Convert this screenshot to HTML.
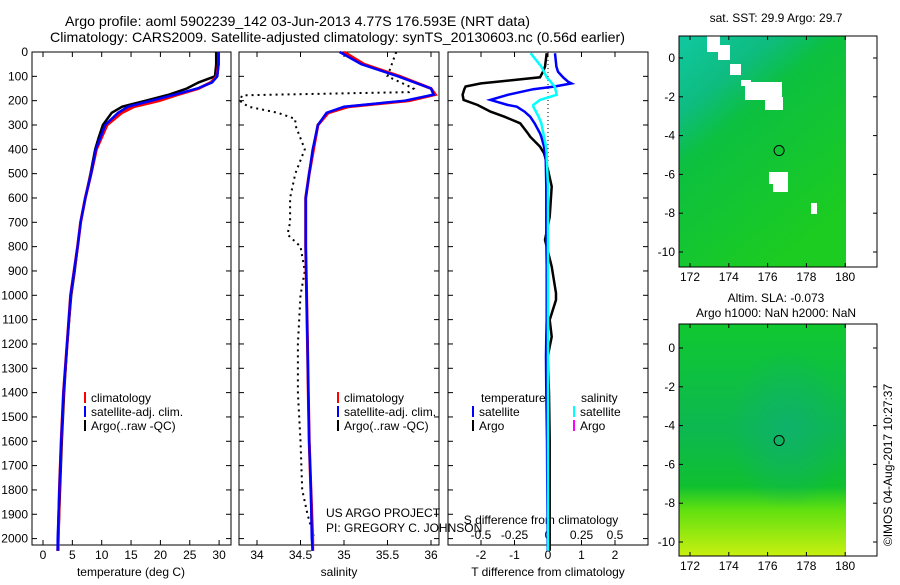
<!DOCTYPE html>
<html><head><meta charset="utf-8"><style>
body{margin:0;background:#fff;width:900px;height:580px;overflow:hidden;font-family:"Liberation Sans",sans-serif}
svg text{font-family:"Liberation Sans",sans-serif;font-size:12px;fill:#000}
</style></head><body>
<svg id="c" width="900" height="580" xmlns="http://www.w3.org/2000/svg">
<defs>
<linearGradient id="g1" x1="0" y1="0" x2="0.6" y2="1"><stop offset="0" stop-color="#10c8a0"/><stop offset="0.25" stop-color="#0ebc80"/><stop offset="0.42" stop-color="#0cc040"/><stop offset="1" stop-color="#1ccc20"/></linearGradient>
<linearGradient id="g2" x1="0" y1="0" x2="0" y2="1"><stop offset="0" stop-color="#10c830"/><stop offset="0.45" stop-color="#0cb850"/><stop offset="0.7" stop-color="#10c030"/><stop offset="0.8" stop-color="#60e010"/><stop offset="1" stop-color="#c8f010"/></linearGradient>
<radialGradient id="g2c" cx="0.65" cy="0.45" r="0.35"><stop offset="0" stop-color="#10b070" stop-opacity="0.8"/><stop offset="1" stop-color="#10b070" stop-opacity="0"/></radialGradient>
</defs>
</svg>
<script>
const depthT=[0,50,100,125,150,175,200,225,250,300,350,400,500,600,700,800,900,1000,1200,1400,1600,1800,2000,2050];
const tempClim=[29.9,29.9,29.6,28.6,26.5,23,19.8,15.5,13.4,10.9,10.0,9.1,8.2,7.2,6.4,5.9,5.3,4.7,4.1,3.5,3.1,2.8,2.6,2.5];
const tempSat=[29.9,29.9,29.7,28.8,26.3,22.5,18.5,14.5,12.8,10.6,9.8,9.0,8.2,7.2,6.4,5.9,5.3,4.7,4.1,3.5,3.1,2.8,2.5,2.5];
const tempArgo=[29.5,29.5,29.3,26.5,24.5,21.5,17.5,13.5,11.7,10.2,9.5,8.9,8.1,7.2,6.4,5.9,5.4,4.8,4.1,3.6,3.2,2.9,2.6,2.6];
const depthS=[0,50,100,150,175,200,225,250,300,400,500,600,800,1000,1200,1400,1600,1800,2000,2050];
const salClim=[35.0,35.23,35.64,36.0,36.05,35.75,35.05,34.82,34.7,34.65,34.6,34.56,34.56,34.57,34.58,34.59,34.6,34.62,34.64,34.64];
const salSat=[34.95,35.2,35.62,36.0,36.03,35.7,35.0,34.8,34.7,34.64,34.6,34.56,34.56,34.57,34.58,34.59,34.6,34.62,34.63,34.64];
const depthSA=[0,50,100,150,165,178,200,225,250,275,300,400,500,600,700,750,800,900,1000,1200,1400,1600,1800,1900,2000];
const salArgo=[35.6,35.55,35.5,35.8,35.75,33.83,33.8,33.9,34.24,34.44,34.44,34.55,34.44,34.38,34.38,34.35,34.5,34.55,34.5,34.47,34.47,34.5,34.52,34.58,34.66];
const depthD=[5,60,81,104,122,129,142,153,176,197,218,225,245,266,293,334,348,389,416,430,553,677,772,882,991,1019,1101,1170,1252,1400,1600,1800,2050];
const dTsat=[0.21,0.25,0.3,0.45,0.6,0.7,0.2,-0.44,-1.2,-1.72,-1.2,-0.93,-0.7,-0.53,-0.4,-0.24,-0.2,-0.12,-0.09,-0.07,-0.05,-0.05,-0.05,-0.04,-0.04,-0.04,-0.04,-0.05,-0.06,-0.05,-0.03,-0.02,-0.01];
const dTargo=[-0.04,-0.09,-0.15,-0.24,-1.52,-2.0,-2.46,-2.5,-2.55,-2.52,-2.1,-2.0,-1.72,-1.3,-0.83,-0.6,-0.53,-0.24,-0.12,-0.09,0.11,0.05,-0.09,0.11,0.24,0.24,0.05,0.11,-0.01,0.03,0.05,0.05,0.05];
const dSsat=[-0.13,-0.05,-0.03,-0.01,0.02,0.03,0.05,0.055,0.065,-0.06,-0.11,-0.11,-0.09,-0.07,-0.05,-0.035,-0.03,-0.015,-0.01,-0.01,0,0,0,0,0,0,0,0,0,0,0,0,0];
const depthTicks=[0,100,200,300,400,500,600,700,800,900,1000,1100,1200,1300,1400,1500,1600,1700,1800,1900,2000];
const tTicks=[0,5,10,15,20,25,30];
const sTicks=[34,34.5,35,35.5,36];
const dTTicks=[-2,-1,0,1,2];
const dSTicks=[-0.5,-0.25,0,0.25,0.5];
const lonTicks=[172,174,176,178,180];
const latTicks=[0,-2,-4,-6,-8,-10];

const svg=document.getElementById('c');const NS='http://www.w3.org/2000/svg';
function mk(tag,attrs,parent){const e=document.createElementNS(NS,tag);for(const k in attrs)e.setAttribute(k,attrs[k]);(parent||svg).appendChild(e);return e;}
function txt(x,y,s,anchor,parent){const t=mk('text',{x:x,y:y,'text-anchor':anchor||'start'},parent);t.textContent=s;return t;}
const Y0=52,Y1=545;
const yD=d=>Y0+d*0.2433;
const xT=v=>43+v*5.87, xS=v=>257+(v-34)*87, xDT=v=>548+v*33.5, xDS=v=>548+v*4*33.5;
const panels=[[32,231],[239,439],[448,648]];

const title1=txt(65,26,'Argo profile: aoml 5902239_142 03-Jun-2013 4.77S 176.593E (NRT data)','start');


title1.setAttribute('textLength','465');title1.setAttribute('lengthAdjust','spacingAndGlyphs');title1.setAttribute('style','font-size:14px');
const title2=txt(50,42,'Climatology: CARS2009. Satellite-adjusted climatology: synTS_20130603.nc (0.56d earlier)','start');


title2.setAttribute('textLength','575');title2.setAttribute('lengthAdjust','spacingAndGlyphs');title2.setAttribute('style','font-size:14px');

panels.forEach((p,i)=>{
  const g=mk('g',{});
  
  
  mk('rect',{x:p[0],y:Y0,width:p[1]-p[0],height:Y1-Y0,fill:'none',stroke:'#000','stroke-width':1},g);
  depthTicks.forEach(d=>{mk('line',{x1:p[0],x2:p[0]+5,y1:yD(d),y2:yD(d),stroke:'#000'},g);mk('line',{x1:p[1],x2:p[1]-5,y1:yD(d),y2:yD(d),stroke:'#000'},g);});
});
depthTicks.forEach(d=>{const t=txt(28,yD(d)+4,String(d),'end');});
function xticks(ticks,fx,ly,i){const p=panels[i];ticks.forEach(v=>{mk('line',{x1:fx(v),x2:fx(v),y1:Y1,y2:Y1-5,stroke:'#000'});mk('line',{x1:fx(v),x2:fx(v),y1:Y0,y2:Y0+5,stroke:'#000'});const t=txt(fx(v),ly,String(v),'middle');});}
xticks(tTicks,xT,559,0);xticks(sTicks,xS,559,1);xticks(dTTicks,xDT,559,2);
dSTicks.forEach(v=>{const t=txt(xDS(v),539,String(v),'middle');});
[['temperature (deg C)',131],['salinity',339],['T difference from climatology',548]].forEach(a=>{const t=txt(a[1],576,a[0],'middle');});
const st=txt(541,524,'S difference from climatology','middle');

function line(ds,vs,fx,color,w,name,dash){const pts=ds.map((d,i)=>fx(vs[i]).toFixed(1)+','+yD(d).toFixed(1)).join(' ');const e=mk('polyline',{points:pts,fill:'none',stroke:color,'stroke-width':w});if(dash)e.setAttribute('stroke-dasharray',dash);return e;}
line(depthT,tempArgo,xT,'#000',2.5,'temp-argo-line');
line(depthT,tempClim,xT,'#f00',3,'temp-climatology-line');
line(depthT,tempSat,xT,'#00f',2.5,'temp-satellite-line');
line(depthSA,salArgo,xS,'#000',2,'sal-argo-line','2,4');
line(depthS,salClim,xS,'#f00',3,'sal-climatology-line');
line(depthS,salSat,xS,'#00f',2.5,'sal-satellite-line');
const zl=mk('line',{x1:548,x2:548,y1:Y0,y2:yD(450),stroke:'#000','stroke-dasharray':'1,3'});

line(depthD,dTargo,xDT,'#000',2.5,'tdiff-argo-line');
line(depthD,dTsat,xDT,'#00f',2.5,'tdiff-satellite-line');
line(depthD,dSsat,xDS,'#0ff',2.5,'sdiff-satellite-line');

function leg(x,y,color,label,name){const g=mk('g',{});mk('rect',{x:x,y:y-10,width:2,height:11,fill:color},g);txt(x+7,y,label,'start',g);}
[[84,90],[337,343]].forEach((o,i)=>{leg(o[0],402,'#f00','climatology','legend-climatology');leg(o[0],416,'#00f','satellite-adj. clim.','legend-satellite');leg(o[0],430,'#000','Argo(..raw -QC)','legend-argo');});
txt(481,402,'temperature');txt(581,402,'salinity');
leg(472,416,'#00f','satellite','legend-t-satellite');leg(472,430,'#000','Argo','legend-t-argo');
leg(573,416,'#0ff','satellite','legend-s-satellite');leg(573,430,'#f0f','Argo','legend-s-argo');
txt(326,517,'US ARGO PROJECT');txt(326,532,'PI: GREGORY C. JOHNSON');

// maps
function map(top,bot,y0,fill,title,name){
  const g=mk('g',{});
  mk('rect',{x:679,y:top,width:167,height:bot-top,fill:fill},g);
  if(name==='sst-map'){[[707,36,13,16],[718,45,12,15],[730,64,11,11],[741,80,10,6],[745,82,37,18],[765,97,18,13],[769,172,14,12],[773,172,15,20],[811,203,6,11]].forEach(r=>mk('rect',{x:r[0],y:r[1],width:r[2],height:r[3],fill:'#fff'},g));}
  else mk('rect',{x:679,y:top,width:167,height:bot-top,fill:'url(#g2c)'},g);
  mk('rect',{x:679,y:top,width:198,height:bot-top,fill:'none',stroke:'#000'},g);
  const lx=v=>690+(v-172)*19.4, ly=v=>y0-v*19.4;
  lonTicks.forEach(v=>{mk('line',{x1:lx(v),x2:lx(v),y1:bot,y2:bot-4,stroke:'#000'},g);mk('line',{x1:lx(v),x2:lx(v),y1:top,y2:top+4,stroke:'#000'},g);txt(lx(v),bot+14,String(v),'middle',g);});
  latTicks.forEach(v=>{mk('line',{x1:679,x2:683,y1:ly(v),y2:ly(v),stroke:'#000'},g);mk('line',{x1:877,x2:873,y1:ly(v),y2:ly(v),stroke:'#000'},g);txt(675,ly(v)+4,String(v),'end',g);});
  const c=mk('circle',{cx:lx(176.593),cy:ly(-4.77),r:5,fill:'none',stroke:'#000'},g);
  
  title.forEach((s,i)=>txt(776,top-22+i*15+(title.length==1?8:0),s,'middle',g));
}
map(36,267,58,'url(#g1)',['sat. SST: 29.9 Argo: 29.7'],'sst-map');
map(324,556,348,'url(#g2)',['Altim. SLA: -0.073','Argo h1000: NaN h2000: NaN'],'sla-map');
const ts=txt(0,0,'©IMOS 04-Aug-2017 10:27:37','middle');
ts.setAttribute('transform','translate(892,465) rotate(-90)');

</script>
</body></html>
